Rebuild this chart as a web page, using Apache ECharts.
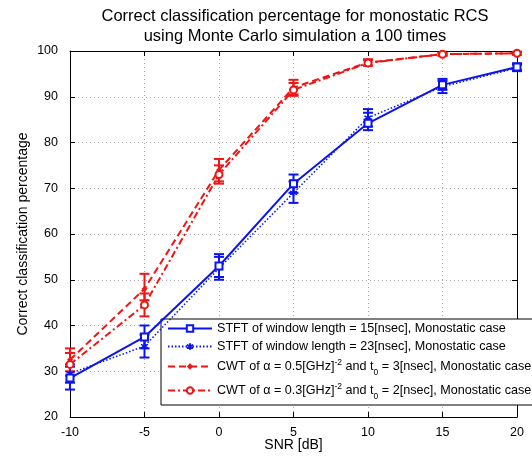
<!DOCTYPE html>
<html><head><meta charset="utf-8">
<script src="https://cdn.jsdelivr.net/npm/echarts@6/dist/echarts.min.js"></script>
<style>html,body{margin:0;padding:0;background:#fff}#c{width:532px;height:456px}</style>
</head><body><div id="c"></div>
<script>
const snr = [-10, -5, 0, 5, 10, 15, 20];
const xTicks = [-10, -5, 0, 5, 10, 15, 20];
const yTicks = [20, 30, 40, 50, 60, 70, 80, 90, 100];

const stft15 = [28.5, 37.5, 53, 71, 84.2, 92.6, 96.5];
const stft15Lo = [26, 35, 50.6, 69, 82.7, 91.5, 95.8];
const stft15Hi = [31, 40, 55.6, 73, 86.5, 93.9, 97.3];

const stft23 = [29.5, 35.5, 52.5, 69, 85.4, 92.2, 96.3];
const stft23Lo = [27.5, 33, 50, 66.8, 83.5, 90.8, 95.6];
const stft23Hi = [31.5, 38, 55, 71.5, 87.3, 93.5, 97];

const cwt05 = [32.5, 48, 74, 92, 97.5, 99.3, 99.5];
const cwt05Lo = [30, 45.5, 71.5, 90.5, 96.8, 99, 99.2];
const cwt05Hi = [35, 51.3, 76.4, 93.7, 98.2, 99.6, 99.8];

const cwt03 = [31.5, 44.5, 73, 91.5, 97.4, 99.3, 99.5];
const cwt03Lo = [29, 42, 71, 90.2, 96.8, 99, 99.2];
const cwt03Hi = [34, 47, 75, 93, 98, 99.6, 99.8];

const names = [
  'STFT of window length = 15[nsec], Monostatic case',
  'STFT of window length = 23[nsec], Monostatic case',
  'CWT of α = 0.5[GHz]^-2 and t_0 = 3[nsec], Monostatic case',
  'CWT of α = 0.3[GHz]^-2 and t_0 = 2[nsec], Monostatic case'
];

const BLUE = '#0a14f0', RED = '#f01414';
const star = 'path://M0,-10 L0,10 M-8.7,-5 L8.7,5 M-8.7,5 L8.7,-5';

function pairs(v){ return snr.map((x,i)=>[x, v[i]]); }
function errSeries(name, lo, hi, color){
  return {
    type: 'custom', name: name, z: 3,
    data: snr.map((x,i)=>[x, lo[i], hi[i]]),
    renderItem: function(params, api){
      const a = api.coord([api.value(0), api.value(1)]);
      const b = api.coord([api.value(0), api.value(2)]);
      const w = 5;
      const st = {stroke: color, lineWidth: 2};
      return {type:'group', children:[
        {type:'line', shape:{x1:a[0],y1:a[1],x2:b[0],y2:b[1]}, style: st},
        {type:'line', shape:{x1:a[0]-w,y1:a[1],x2:a[0]+w,y2:a[1]}, style: st},
        {type:'line', shape:{x1:b[0]-w,y1:b[1],x2:b[0]+w,y2:b[1]}, style: st}
      ]};
    }
  };
}

function fmt(n){
  return n.replace(/\^(-2)/, '{sup|$1}').replace(/_(0)/, '{sub|$1}');
}

const chart = echarts.init(document.getElementById('c'));
chart.setOption({
  animation: false,
  backgroundColor: '#fff',
  title: {
    text: 'Correct classification percentage for monostatic RCS\nusing Monte Carlo simulation a 100 times',
    left: 290, textAlign: 'center', top: 1,
    textStyle: {fontFamily: 'Liberation Sans', fontSize: 16.5, fontWeight: 'normal', color: '#000', lineHeight: 20}
  },
  grid: {left: 70, right: 15, top: 51, bottom: 39, outerBoundsMode: 'none', containLabel: false},
  legend: {
    orient: 'vertical', left: 161, top: 319, width: 380,
    data: names,
    itemWidth: 44, itemHeight: 8, itemGap: 5,
    padding: [3, 6, 4, 6],
    borderColor: '#000', borderWidth: 1, backgroundColor: '#fff',
    formatter: fmt,
    textStyle: {
      fontFamily: 'Liberation Sans', fontSize: 12.6, color: '#000',
      rich: {
        sup: {fontSize: 8.5, fontFamily: 'Liberation Sans', verticalAlign: 'bottom', padding: [0,0,10,0]},
        sub: {fontSize: 8.5, fontFamily: 'Liberation Sans', verticalAlign: 'top', padding: [12,0,0,0]}
      }
    }
  },
  xAxis: [{
    type: 'value', min: -10, max: 20, interval: 5,
    name: 'SNR [dB]', nameLocation: 'middle', nameGap: 21, nameMoveOverlap: false,
    nameTextStyle: {fontFamily: 'Liberation Sans', fontSize: 14, color: '#000'},
    axisLine: {onZero: false, lineStyle: {color: '#000', width: 1}},
    axisTick: {inside: true, length: 5, lineStyle: {color: '#000'}},
    axisLabel: {fontFamily: 'Liberation Sans', fontSize: 12.5, color: '#000', margin: 9,
      formatter: v => xTicks.includes(v) ? String(v) : ''},
    splitLine: {show: true, lineStyle: {color: '#aaa', type: [1, 3], width: 1}}
  }, {
    type: 'value', min: -10, max: 20, interval: 5, position: 'top',
    axisLine: {onZero: false, lineStyle: {color: '#000'}},
    axisTick: {inside: true, length: 5, lineStyle: {color: '#000'}},
    axisLabel: {show: false}, splitLine: {show: false}
  }],
  yAxis: [{
    type: 'value', min: 20, max: 100, interval: 10,
    name: 'Correct classification percentage', nameLocation: 'middle', nameGap: 40, nameMoveOverlap: false,
    nameTextStyle: {fontFamily: 'Liberation Sans', fontSize: 14, color: '#000'},
    axisLine: {show: true, onZero: false, lineStyle: {color: '#000'}},
    axisTick: {show: true, inside: true, length: 5, lineStyle: {color: '#000'}},
    axisLabel: {fontFamily: 'Liberation Sans', fontSize: 12.5, color: '#000', margin: 12,
      formatter: v => yTicks.includes(v) ? String(v) : ''},
    splitLine: {show: true, lineStyle: {color: '#aaa', type: [1, 3], width: 1}}
  }, {
    type: 'value', min: 20, max: 100, interval: 10, position: 'right',
    axisLine: {show: true, onZero: false, lineStyle: {color: '#000'}},
    axisTick: {show: true, inside: true, length: 5, lineStyle: {color: '#000'}},
    axisLabel: {show: false}, splitLine: {show: false}
  }],
  series: [
    errSeries('e1', stft15Lo, stft15Hi, BLUE),
    errSeries('e2', stft23Lo, stft23Hi, BLUE),
    errSeries('e3', cwt05Lo, cwt05Hi, RED),
    errSeries('e4', cwt03Lo, cwt03Hi, RED),
    {name: names[0], type: 'line', data: pairs(stft15), symbol: 'emptyRect', symbolSize: 7,
      lineStyle: {color: BLUE, width: 2}, itemStyle: {color: BLUE, borderWidth: 1.5}, z: 5},
    {name: names[1], type: 'line', data: pairs(stft23), symbol: star, symbolSize: 7,
      lineStyle: {color: BLUE, width: 1.5, type: [1.5, 2]}, itemStyle: {color: BLUE, borderColor: BLUE, borderWidth: 1.5}, z: 4},
    {name: names[2], type: 'line', data: pairs(cwt05), symbol: 'diamond', symbolSize: 6,
      lineStyle: {color: RED, width: 2, type: [7, 4]}, itemStyle: {color: RED}, z: 4},
    {name: names[3], type: 'line', data: pairs(cwt03), symbol: 'emptyCircle', symbolSize: 7,
      lineStyle: {color: RED, width: 2, type: [7, 3, 2, 3]}, itemStyle: {color: RED, borderWidth: 1.5}, z: 4}
  ]
});
</script></body></html>
